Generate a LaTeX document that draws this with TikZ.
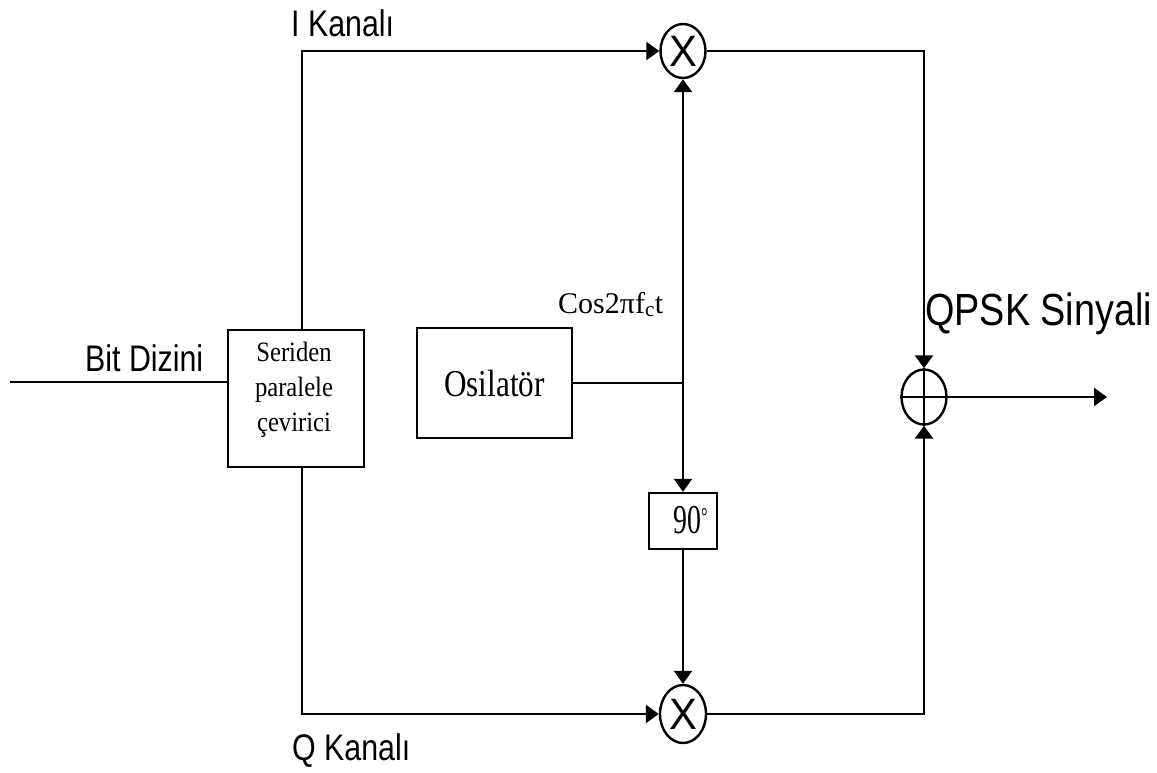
\documentclass[tikz,border=0pt]{standalone}
\usepackage{fontspec}
\setmainfont{Liberation Serif}
\newfontfamily\arial{Liberation Sans}
\usetikzlibrary{arrows.meta,shapes.geometric}
\begin{document}
\begin{tikzpicture}[x=1pt,y=-1pt,
  line/.style={line width=2.4pt},
  arr/.style={line width=2.4pt,-{Triangle[length=13pt,width=18pt]}},
  boxnode/.style={draw,line width=2.4pt,inner sep=0pt,fill=white},
  mult/.style={draw,ellipse,line width=2.4pt,inner sep=0pt,fill=white,font=\arial\fontsize{44}{48}\selectfont},
  sans/.style={inner sep=0pt},
]
\useasboundingbox (0,0) rectangle (1157,772);
% blocks
\node[boxnode,minimum width=136pt,minimum height=137pt] (ser) at (296,398.5) {};
\node[inner sep=0pt,align=center,font=\fontsize{28}{35}\selectfont] (sertxt) at (294,390) {\scalebox{0.88}[1]{Seriden}\\\scalebox{0.88}[1]{paralele}\\\scalebox{0.88}[1]{çevirici}};
\node[boxnode,minimum width=155pt,minimum height=110pt,font=\fontsize{38}{40}\selectfont] (osc) at (494.5,383) {\scalebox{0.82}[1]{Osilatör}};
\node[boxnode,minimum width=68pt,minimum height=56pt] (ph) at (683,521) {};
\node[inner sep=0pt,anchor=base west,font=\fontsize{41}{44}\selectfont] (phtxt) at (673,533) {\scalebox{0.68}[1]{90\raisebox{0.45ex}{\fontsize{24}{26}\selectfont°}}};
\node[mult,minimum width=45pt,minimum height=54pt] (mI) at (683,51) {\scalebox{0.95}[1]{X}};
\node[mult,minimum width=46pt,minimum height=58pt] (mQ) at (683,714) {\scalebox{0.95}[1]{X}};
\node[draw,ellipse,line width=2.4pt,inner sep=0pt,minimum width=45pt,minimum height=55pt] (sum) at (924,397) {};
\draw[line] (sum.north) -- (sum.south);
\draw[line] (sum.west) -- (sum.east);
% coordinates
\coordinate (in) at (10,382);
\coordinate (cI) at (302,54);
\coordinate (cQ) at (302,714);
\coordinate (J) at (683,383);
\coordinate (out) at (1107,397);
% connectors
\draw[line] (in) -- (in -| ser.west);
\draw[arr] (ser.north -| cI) |- (mI.west);
\draw[arr] (ser.south -| cQ) |- (mQ.west);
\draw[line] (osc.east) -- (J);
\draw[arr] (J) -- (mI.south);
\draw[arr] (J) -- (ph.north);
\draw[arr] (ph.south) -- (mQ.north);
\draw[arr] (mI.east) -| (sum.north);
\draw[arr] (mQ.east) -| (sum.south);
\draw[arr] (sum.east) -- (out);
% labels
\node[sans,anchor=base west,font=\arial\fontsize{37}{40}\selectfont] (lI) at (291,36) {\scalebox{0.82}[1]{I Kanalı}};
\node[sans,anchor=base west,font=\arial\fontsize{37}{40}\selectfont] (lQ) at (292,760) {\scalebox{0.82}[1]{Q Kanalı}};
\node[sans,anchor=base west,font=\arial\fontsize{37}{40}\selectfont] (lB) at (85,371) {\scalebox{0.82}[1]{Bit Dizini}};
\node[sans,anchor=base west,font=\arial\fontsize{45}{48}\selectfont] (lQP) at (925,325) {\scalebox{0.84}[1]{QPSK Sinyali}};
\node[sans,anchor=base west,font=\fontsize{30}{34}\selectfont] (lC) at (558,313) {Cos2πf\textsubscript{c}t};
\end{tikzpicture}
\end{document}
